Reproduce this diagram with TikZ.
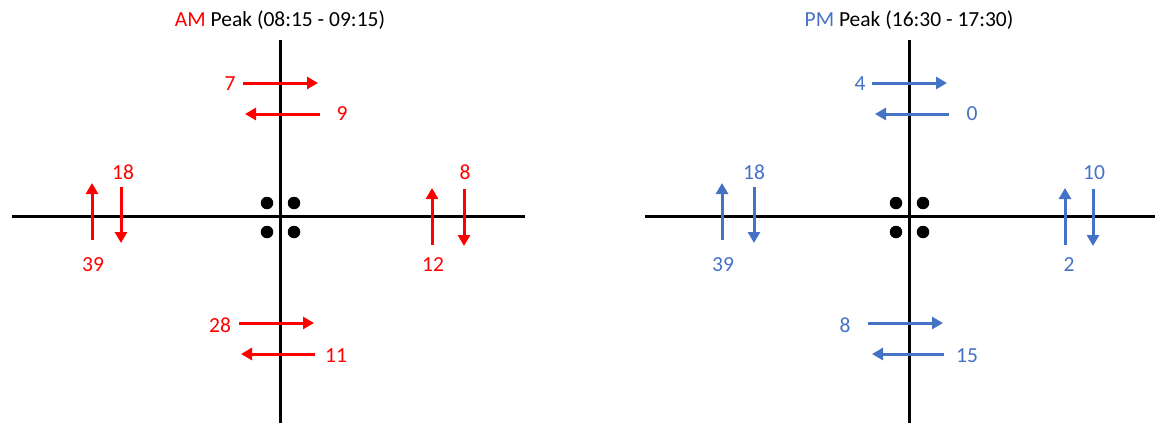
\documentclass[tikz,border=0pt]{standalone}
\usepackage{fontspec}
\setmainfont{Carlito}
\usetikzlibrary{arrows.meta}
\definecolor{amred}{HTML}{FF0000}
\definecolor{pmblue}{HTML}{4472C4}
\begin{document}
\begin{tikzpicture}[x=1pt,y=-1pt,
  axis/.style={line width=3pt,black},
  flow/.style={line width=3pt,-{Triangle[length=11pt,width=12pt]}},
  lab/.style={anchor=base,inner sep=0pt,font=\fontsize{21.5}{26}\selectfont},
  dot/.style={circle,fill=black,inner sep=0pt,minimum size=12.5pt}]
\useasboundingbox (0,0) rectangle (1159,423);
% ---------- AM peak ----------
\begin{scope}
\node[lab] (Atitle) at (280,27) {\textcolor{amred}{AM} Peak (08:15 - 09:15)};
\coordinate (At) at (280,40); \coordinate (Ab) at (280,423);
\coordinate (Al) at (12,216); \coordinate (Ar) at (525,216);
\draw[axis] (At) -- (Ab);
\draw[axis] (Al) -- (Ar);
\node[dot] (Ad1) at (267,203) {};
\node[dot] (Ad2) at (294,203) {};
\node[dot] (Ad3) at (267,232) {};
\node[dot] (Ad4) at (294,232) {};
\begin{scope}[amred]
\coordinate (An1s) at (243,83); \coordinate (An1e) at (318,83);
\coordinate (An2s) at (320,114); \coordinate (An2e) at (245,114);
\coordinate (Aw1s) at (92,240); \coordinate (Aw1e) at (92,183);
\coordinate (Aw2s) at (121,187); \coordinate (Aw2e) at (121,243);
\coordinate (Ae1s) at (432,245); \coordinate (Ae1e) at (432,188);
\coordinate (Ae2s) at (464,189); \coordinate (Ae2e) at (464,246);
\coordinate (As1s) at (239,323); \coordinate (As1e) at (314,323);
\coordinate (As2s) at (315,354); \coordinate (As2e) at (241,354);
\foreach \a in {An1,An2,Aw1,Aw2,Ae1,Ae2,As1,As2}
  \draw[flow] (\a s) -- (\a e);
\node[lab,text=amred] (An1l) at (230,90) {7};
\node[lab,text=amred] (An2l) at (342,120) {9};
\node[lab,text=amred] (Aw1l) at (93,271) {39};
\node[lab,text=amred] (Aw2l) at (123,179) {18};
\node[lab,text=amred] (Ae1l) at (433,271) {12};
\node[lab,text=amred] (Ae2l) at (465,179) {8};
\node[lab,text=amred] (As1l) at (220,332) {28};
\node[lab,text=amred] (As2l) at (336,362) {11};
\end{scope}
\end{scope}
% ---------- PM peak ----------
\node[lab] (Ptitle) at (909,27) {\textcolor{pmblue}{PM} Peak (16:30 - 17:30)};
\begin{scope}[xshift=629pt]
\coordinate (Pt) at (280,40); \coordinate (Pb) at (280,423);
\coordinate (Pl) at (16,216); \coordinate (Pr) at (526,216);
\draw[axis] (Pt) -- (Pb);
\draw[axis] (Pl) -- (Pr);
\node[dot] (Pd1) at (267,203) {};
\node[dot] (Pd2) at (294,203) {};
\node[dot] (Pd3) at (267,232) {};
\node[dot] (Pd4) at (294,232) {};
\begin{scope}[pmblue]
\coordinate (Pn1s) at (243,83); \coordinate (Pn1e) at (318,83);
\coordinate (Pn2s) at (320,114); \coordinate (Pn2e) at (246,114);
\coordinate (Pw1s) at (93,240); \coordinate (Pw1e) at (93,183);
\coordinate (Pw2s) at (125,187); \coordinate (Pw2e) at (125,243);
\coordinate (Pe1s) at (436,245); \coordinate (Pe1e) at (436,188);
\coordinate (Pe2s) at (464,189); \coordinate (Pe2e) at (464,246);
\coordinate (Ps1s) at (239,323); \coordinate (Ps1e) at (314,323);
\coordinate (Ps2s) at (315,354); \coordinate (Ps2e) at (243,354);
\foreach \a in {Pn1,Pn2,Pw1,Pw2,Pe1,Pe2,Ps1,Ps2}
  \draw[flow] (\a s) -- (\a e);
\end{scope}
\end{scope}
\begin{scope}[lab]
\node[lab,text=pmblue] (Pn1l) at (860,90) {4};
\node[lab,text=pmblue] (Pn2l) at (972,120) {0};
\node[lab,text=pmblue] (Pw1l) at (723,271) {39};
\node[lab,text=pmblue] (Pw2l) at (754,179) {18};
\node[lab,text=pmblue] (Pe1l) at (1069,271) {2};
\node[lab,text=pmblue] (Pe2l) at (1094,179) {10};
\node[lab,text=pmblue] (Ps1l) at (845,332) {8};
\node[lab,text=pmblue] (Ps2l) at (967,362) {15};
\end{scope}
\end{tikzpicture}
\end{document}
